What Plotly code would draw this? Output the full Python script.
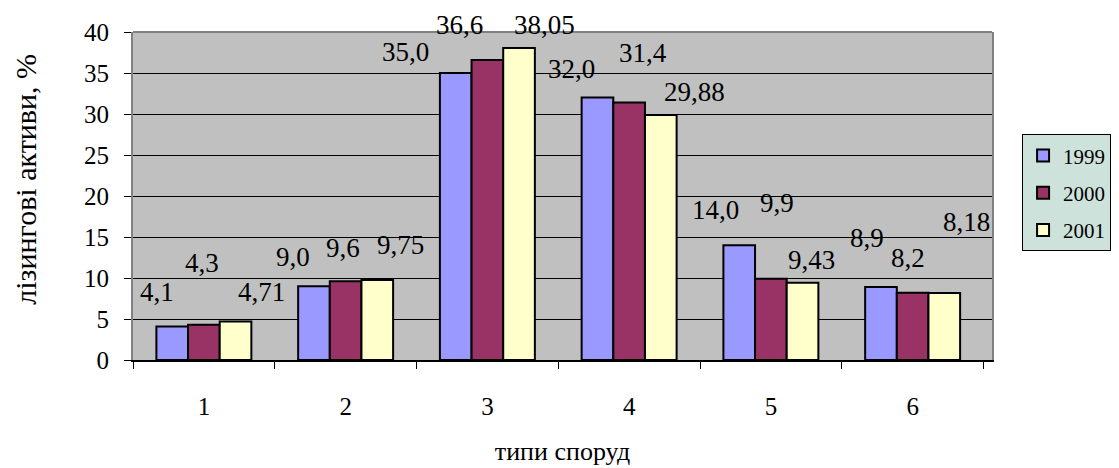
import plotly.graph_objects as go

# Building types (x categories) and leasing-asset shares, %
categories = ["1", "2", "3", "4", "5", "6"]
years = ["1999", "2000", "2001"]
values_1999 = [4.1, 9.0, 35.0, 32.0, 14.0, 8.9]
values_2000 = [4.3, 9.6, 36.6, 31.4, 9.9, 8.2]
values_2001 = [4.71, 9.75, 38.05, 29.88, 9.43, 8.18]
series = [values_1999, values_2000, values_2001]
colors = ["#9999FF", "#993366", "#FFFFCC"]

# Value labels as printed (comma decimal), one per bar
labels_1999 = ["4,1", "9,0", "35,0", "32,0", "14,0", "8,9"]
labels_2000 = ["4,3", "9,6", "36,6", "31,4", "9,9", "8,2"]
labels_2001 = ["4,71", "9,75", "38,05", "29,88", "9,43", "8,18"]
labels = [labels_1999, labels_2000, labels_2001]

# Where each label sits: horizontal shift from the category centre
# (in category units) and the label's height in axis units
label_dx = [
    [-0.33, -0.37, -0.58, -0.41, -0.39, -0.32],
    [-0.01, -0.02, -0.20, 0.10, 0.04, -0.03],
    [0.41, 0.39, 0.40, 0.46, 0.29, 0.38],
]
label_y = [
    [8.3, 12.6, 37.6, 35.5, 18.3, 14.9],
    [11.8, 13.7, 40.9, 37.4, 19.2, 12.4],
    [8.3, 14.0, 40.9, 32.7, 12.2, 16.8],
]

FONT = "Liberation Serif"
Y_MAX = 40
PLOT_H = 468 - 32 - 108
PX_PER_UNIT = PLOT_H / Y_MAX

fig = go.Figure()
for name, vals, col in zip(years, series, colors):
    fig.add_trace(go.Bar(
        x=categories, y=vals, name=name, legendgroup=name,
        marker=dict(color=col, line=dict(color="black", width=2)),
    ))

annotations = []
for s in range(3):
    for c in range(len(categories)):
        yv = label_y[s][c]
        # labels above the top of the axis are anchored at the top and lifted
        shift = max(0.0, yv - Y_MAX) * PX_PER_UNIT
        annotations.append(dict(
            x=c + label_dx[s][c], y=min(yv, Y_MAX), yshift=shift,
            xref="x", yref="y",
            text=labels[s][c], showarrow=False,
            font=dict(family=FONT, size=27, color="black"),
        ))

# vertical axis title
annotations.append(dict(
    x=-0.146, y=0.55, xref="paper", yref="paper", textangle=-90,
    text="лізингові активи, %", showarrow=False,
    font=dict(family=FONT, size=30, color="black"),
))

fig.update_layout(
    width=1119, height=468,
    margin=dict(l=133, r=127, t=32, b=108, autoexpand=False),
    paper_bgcolor="white", plot_bgcolor="#C0C0C0",
    barmode="group", bargap=0.33, bargroupgap=0,
    font=dict(family=FONT, color="black"),
    annotations=annotations,
    showlegend=True,
    legend=dict(
        x=1.035, y=0.688, xanchor="left", yanchor="top",
        bgcolor="#CCE2DA", bordercolor="black", borderwidth=1,
        font=dict(family=FONT, size=21, color="black"),
        tracegroupgap=7, itemwidth=30,
    ),
    shapes=[dict(type="line", xref="paper", yref="paper", x0=0, x1=1, y0=1, y1=1,
                 line=dict(color="#808080", width=2))],
)

fig.update_xaxes(
    type="category", categoryorder="array", categoryarray=categories,
    automargin=False,
    showline=True, linecolor="black", linewidth=1.5,
    ticks="outside", tickson="boundaries", ticklen=7, tickcolor="black",
    tickfont=dict(family=FONT, size=25), ticklabelstandoff=23,
    showgrid=False,
    title=dict(text="типи споруд", font=dict(family=FONT, size=26), standoff=23),
)
fig.update_yaxes(
    range=[0, Y_MAX], dtick=5, automargin=False,
    showline=True, linecolor="#808080", linewidth=2, mirror=True,
    ticks="outside", ticklen=7, tickcolor="black",
    tickfont=dict(family=FONT, size=25), ticklabelstandoff=10,
    showgrid=True, gridcolor="black", gridwidth=1,
    zeroline=False,
)

fig.write_html("out.html")
